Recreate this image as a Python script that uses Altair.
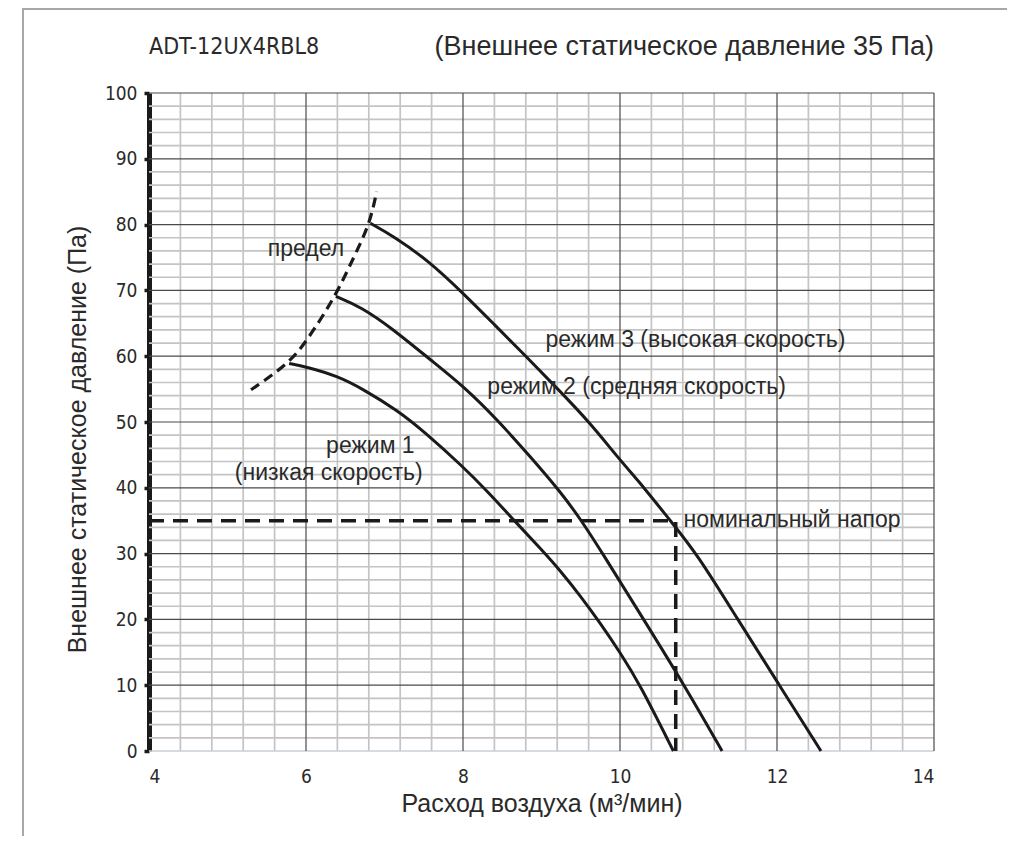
import altair as alt
import pandas as pd

# ---- grid positions ----
x_minor = [4.4, 4.8, 5.2, 5.6, 6.4, 6.8, 7.2, 7.6, 8.4, 8.8, 9.2, 9.6,
           10.4, 10.8, 11.2, 11.6, 12.4, 12.8, 13.2, 13.6]
x_major = [6, 8, 10, 12, 14]
y_minor = [2, 4, 6, 8, 12, 14, 16, 18, 22, 24, 26, 28, 32, 34, 36, 38,
           42, 44, 46, 48, 52, 54, 56, 58, 62, 64, 66, 68, 72, 74, 76, 78,
           82, 84, 86, 88, 92, 94, 96, 98]
y_major = [10, 20, 30, 40, 50, 60, 70, 80, 90, 100]
y_base = [0]

x_ticks = [4, 6, 8, 10, 12, 14]
y_ticks = [0, 10, 20, 30, 40, 50, 60, 70, 80, 90, 100]

# ---- fan curves ----
mode3_x = [6.82, 7.12, 7.55, 8.0, 8.4, 8.8, 9.2, 9.61, 10.0, 10.31, 10.64, 10.98, 11.5, 12.03, 12.56]
mode3_y = [80.2, 78.2, 74.6, 69.6, 64.8, 60.0, 55.1, 50.0, 44.2, 40.0, 35.0, 30.0, 20.0, 10.0, 0.0]

mode2_x = [6.38, 6.70, 7.1, 7.59, 8.01, 8.44, 8.86, 9.24, 9.5, 9.78, 10.3, 10.82, 11.30]
mode2_y = [69.1, 67.5, 64.2, 59.4, 55.4, 50.3, 44.7, 39.4, 35.2, 30.0, 20.0, 10.0, 0.0]

mode1_x = [5.785, 6.0, 6.4, 6.74, 7.16, 7.5, 8.0, 8.3, 8.67, 9.0, 9.24, 9.5, 9.75, 10.0, 10.25, 10.68]
mode1_y = [58.9, 58.4, 57.0, 54.9, 51.8, 48.6, 43.2, 39.6, 34.8, 30.6, 27.4, 23.5, 19.4, 15.0, 10.2, 0.0]

limit_x = [5.30, 5.785, 6.02, 6.38, 6.61, 6.81, 6.90]
limit_y = [54.9, 58.9, 62.5, 69.2, 75.1, 80.0, 85.0]

nominal_x = [4.0, 10.71, 10.71]
nominal_y = [35.0, 35.0, 0.0]

# ---- annotations ----
ann_text = ["предел", "режим 3 (высокая скорость)", "режим 2 (средняя скорость)",
            "режим 1", "(низкая скорость)", "номинальный напор"]
ann_x = [6.0, 9.05, 8.31, 6.82, 6.29, 10.81]
ann_y = [76.3, 62.5, 55.3, 46.4, 42.2, 35.1]
ann_align = ["center", "left", "left", "center", "center", "left"]

title_left = "ADT-12UX4RBL8"
title_right = "(Внешнее статическое давление 35 Па)"

FONT = "Liberation Sans, Arial, sans-serif"
NARROW = "Liberation Sans Narrow, DejaVu Sans Condensed, sans-serif"
INK = "#1a1a1a"
TXT = "#2a2a2a"

xscale = alt.Scale(domain=[4, 14], nice=False, zero=False)
yscale = alt.Scale(domain=[0, 100], nice=False, zero=False)

xaxis = alt.Axis(values=x_ticks, grid=False, domain=False, ticks=False,
                 labelPadding=16, labelFontSize=19, labelFont=NARROW, labelColor=TXT,
                 title="Расход воздуха (м³/мин)", titleFont=FONT, titleFontSize=25,
                 titleFontWeight="normal", titleColor=TXT, titlePadding=5, format="d")
yaxis = alt.Axis(values=y_ticks, grid=False, domain=True, domainColor=INK, domainWidth=5,
                 ticks=True, tickSize=5, tickWidth=3.5, tickColor=INK,
                 labelPadding=7, labelFontSize=19, labelFont=NARROW, labelColor=TXT,
                 title="Внешнее статическое давление (Па)", titleFont=FONT, titleFontSize=25,
                 titleFontWeight="normal", titleColor=TXT, titlePadding=14, titleY=346,
                 format="d")

X = alt.X("x:Q", scale=xscale, axis=xaxis)
Y = alt.Y("y:Q", scale=yscale, axis=yaxis)

def col(vals, name):
    return pd.DataFrame({name: vals})

def curve(xs, ys):
    return pd.DataFrame({"x": xs, "y": ys, "o": list(range(len(xs)))})

vminor = alt.Chart(col(x_minor, "x")).mark_rule(color="#c4c4c4", strokeWidth=1.7).encode(x=X)
hminor = alt.Chart(col(y_minor, "y")).mark_rule(color="#c4c4c4", strokeWidth=1.7).encode(y=Y)
vmajor = alt.Chart(col(x_major, "x")).mark_rule(color="#4a4a4a", strokeWidth=1.2).encode(x=X)
hmajor = alt.Chart(col(y_major, "y")).mark_rule(color="#4a4a4a", strokeWidth=1.2).encode(y=Y)
hbase = alt.Chart(col(y_base, "y")).mark_rule(color="#c9cfd8", strokeWidth=1.6).encode(y=Y)

def solid(xs, ys):
    return alt.Chart(curve(xs, ys)).mark_line(color=INK, strokeWidth=3, interpolate="basis").encode(
        x=X, y=Y, order="o:Q")

m3 = solid(mode3_x, mode3_y)
m2 = solid(mode2_x, mode2_y)
m1 = solid(mode1_x, mode1_y)

lim = alt.Chart(curve(limit_x, limit_y)).mark_line(
    color=INK, strokeWidth=3.2, strokeDash=[10, 6], interpolate="basis").encode(x=X, y=Y, order="o:Q")

nom = alt.Chart(curve(nominal_x, nominal_y)).mark_line(
    color=INK, strokeWidth=3.5, strokeDash=[15, 9]).encode(x=X, y=Y, order="o:Q")

ann_df = pd.DataFrame({"x": ann_x, "y": ann_y, "t": ann_text, "a": ann_align})
ann_layers = []
for al in ["left", "center"]:
    ann_layers.append(
        alt.Chart(ann_df[ann_df["a"] == al]).mark_text(
            align=al, baseline="middle", font=FONT, fontSize=23, color=TXT).encode(
            x=X, y=Y, text="t:N"))

tl = alt.Chart(pd.DataFrame({"x": [4.0], "y": [107.0], "t": [title_left]})).mark_text(
    align="left", baseline="middle", font=NARROW, fontSize=23, color=TXT).encode(x=X, y=Y, text="t:N")
tr = alt.Chart(pd.DataFrame({"x": [14.0], "y": [107.0], "t": [title_right]})).mark_text(
    align="right", baseline="middle", font=FONT, fontSize=27, color=TXT).encode(x=X, y=Y, text="t:N")

# image frame (decoration)
frame_l = alt.Chart(col([0], "d")).mark_rule(color="#a8a8a8", strokeWidth=2).encode(
    x=alt.value(-126), y=alt.value(-85), y2=alt.value(761))
frame_t = alt.Chart(col([0], "d")).mark_rule(color="#a8a8a8", strokeWidth=2).encode(
    x=alt.value(-126), x2=alt.value(858), y=alt.value(-84))

chart = alt.layer(
    vminor, hminor, hbase, vmajor, hmajor, frame_l, frame_t,
    lim, nom, m1, m2, m3, *ann_layers, tl, tr
).properties(
    width=785, height=658,
    padding={"left": 141, "top": 85, "right": 73, "bottom": 85},
    autosize=alt.AutoSizeParams(type="none"),
).configure_view(stroke=None)

chart.save("out.html", embed_options={"renderer": "svg", "actions": False})
